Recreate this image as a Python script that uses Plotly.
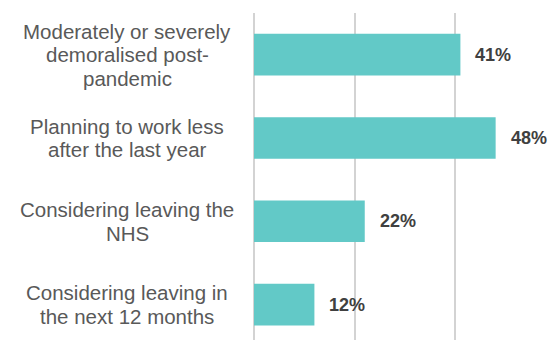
import plotly.graph_objects as go

categories = [
    "Moderately or severely<br>demoralised post-<br>pandemic",
    "Planning to work less<br>after the last year",
    "Considering leaving the<br>NHS",
    "Considering leaving in<br>the next 12 months",
]
values = [41, 48, 22, 12]
value_labels = ["41%", "48%", "22%", "12%"]

LINE_H = 23.5
LABEL_CENTER_SHIFT = -127
label_font = dict(family="Liberation Sans, Arial", size=20.5, color="#595959")

fig = go.Figure()
fig.add_trace(go.Bar(
    x=values,
    y=list(range(len(categories))),
    orientation="h",
    marker=dict(color="#62C9C7", line=dict(width=0)),
    width=0.5,
    hoverinfo="skip",
))

for i, (cat, v, lab) in enumerate(zip(categories, values, value_labels)):
    lines = cat.split("<br>")
    n = len(lines)
    for k, line in enumerate(lines):
        fig.add_annotation(
            x=0, xref="paper", y=i, yref="y",
            text=line, showarrow=False, xanchor="center", yanchor="middle",
            xshift=LABEL_CENTER_SHIFT, yshift=((n - 1) / 2 - k) * LINE_H,
            font=label_font,
        )
    fig.add_annotation(
        x=v, xref="x", y=i, yref="y",
        text="<b>" + lab + "</b>", showarrow=False, xanchor="left", yanchor="middle",
        xshift=13,
        font=dict(family="Liberation Sans, Arial", size=18, color="#404040"),
    )

fig.update_layout(
    width=548, height=340,
    margin=dict(l=254, r=0, t=13, b=0),
    plot_bgcolor="white", paper_bgcolor="white",
    showlegend=False,
    bargap=0.5,
)
fig.update_xaxes(
    range=[0, 58.4], tick0=0, dtick=20, showgrid=True,
    gridcolor="#d3d3d3", gridwidth=2,
    zeroline=True, zerolinecolor="#d3d3d3", zerolinewidth=2,
    showticklabels=False, ticks="", showline=False,
)
fig.update_yaxes(
    range=[3.425, -0.5], showticklabels=False, showgrid=False,
    zeroline=False, ticks="", showline=False,
)

fig.write_html("out.html")
